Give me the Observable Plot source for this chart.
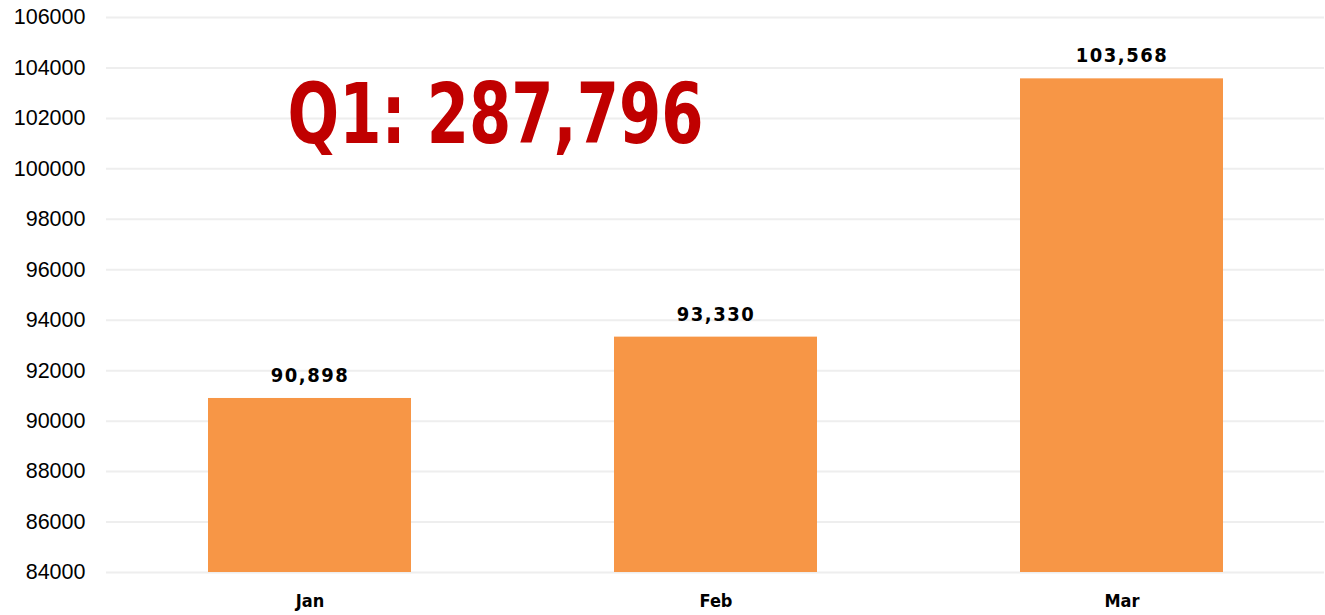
<!DOCTYPE html>
<html>
<head>
<meta charset="utf-8">
<script src="https://cdn.jsdelivr.net/npm/d3@7"></script>
<script src="https://cdn.jsdelivr.net/npm/@observablehq/plot@0.6"></script>
<style>
  html, body { margin: 0; padding: 0; background: #fff; }
  #chart svg { display: block; }
</style>
</head>
<body>
<div id="chart"></div>
<script>
const months = ["Jan", "Feb", "Mar"];
const sales = [90898, 93330, 103568];
const yTicks = [84000, 86000, 88000, 90000, 92000, 94000, 96000, 98000, 100000, 102000, 104000, 106000];

const data = months.map((m, i) => ({month: m, value: sales[i]}));
const total = d3.sum(sales);
const fmt = d3.format(",");

const narrow = "'DejaVu Sans Condensed', 'Liberation Sans Narrow', 'Liberation Sans', sans-serif";

const chart = Plot.plot({
  width: 1325,
  height: 615,
  marginLeft: 106,
  marginRight: 1,
  marginTop: 17,
  marginBottom: 43,
  style: {fontFamily: "'Liberation Sans', Arial, sans-serif", background: "#fff"},
  x: {domain: months, paddingInner: 0.5, paddingOuter: 0.25, label: null},
  y: {domain: [84000, 106000], label: null},
  marks: [
    Plot.gridY(yTicks, {stroke: "#eeeeee", strokeWidth: 2, strokeOpacity: 1}),
    Plot.barY(data, {x: "month", y1: 84000, y2: "value", fill: "#F79646"}),
    Plot.text(data, {x: "month", y: "value", text: d => fmt(d.value), dy: -23,
      fontFamily: narrow, fontWeight: "bold", fontSize: 20, fill: "#000",
      className: "vlabel"}),
    Plot.text([total], {frameAnchor: "top-left", dx: 181, dy: 66, textAnchor: "start",
      text: d => "Q1: " + fmt(d), fontFamily: narrow, fontWeight: "bold", fontSize: 84, fill: "#C00000",
      className: "qtitle"}),
    Plot.axisY({ticks: yTicks, tickSize: 0, tickPadding: 21, fontSize: 21.5, fill: "#000", tickFormat: d => String(d), label: null}),
    Plot.axisX({tickSize: 0, tickPadding: 22, fontSize: 18, fontWeight: "bold", fontFamily: narrow, fill: "#000", label: null})
  ]
});
d3.select(chart).selectAll(".vlabel text").style("letter-spacing", "1.5px");
d3.select(chart).selectAll(".qtitle text").attr("textLength", 416).attr("lengthAdjust", "spacingAndGlyphs");
document.getElementById("chart").appendChild(chart);
</script>
</body>
</html>
